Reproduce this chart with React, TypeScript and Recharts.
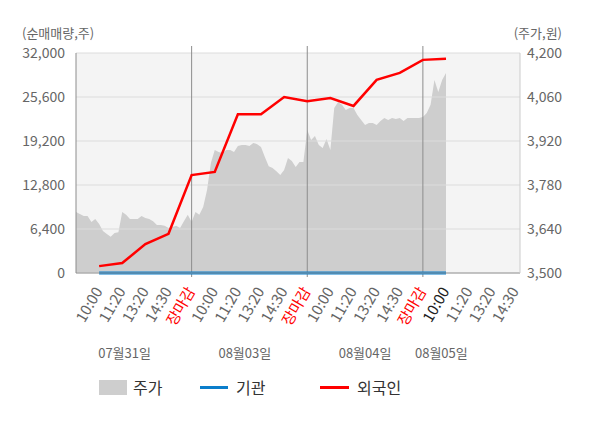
import { ComposedChart, Area, Line, XAxis, YAxis, CartesianGrid, ReferenceLine } from 'recharts'

const FONT = '"Noto Sans CJK KR", "Noto Sans", sans-serif'

// x is measured in label slots: each trading day spans 5 slots (09:00 .. 장마감)
const SLOTS_PER_DAY = 5
const SAMPLES_PER_SLOT = 6
const X_DOMAIN: [number, number] = [0, 19.2]

const timeTickSlots = [1, 2, 3, 4, 5, 6, 7, 8, 9, 10, 11, 12, 13, 14, 15, 16, 17, 18, 19]
const timeTickLabels = [
  '10:00', '11:20', '13:20', '14:30', '장마감',
  '10:00', '11:20', '13:20', '14:30', '장마감',
  '10:00', '11:20', '13:20', '14:30', '장마감',
  '10:00', '11:20', '13:20', '14:30',
]
const currentSlot = 16

const dateTickSlots = [2.1, 7.3, 12.5, 15.8]
const dateTickLabels = ['07월31일', '08월03일', '08월04일', '08월05일']

const dayBreakSlots = [5, 10, 15]

const leftTicks = [0, 6400, 12800, 19200, 25600, 32000]
const rightTicks = [3500, 3640, 3780, 3920, 4060, 4200]

// 기관 / 외국인 cumulative net buying, one point per labelled slot
const flowSlots = [1, 2, 3, 4, 5, 6, 7, 8, 9, 10, 11, 12, 13, 14, 15, 16]
const foreignNet = [1000, 1450, 4200, 5700, 14250, 14700, 23100, 23100, 25600, 25000, 25450, 24300, 28100, 29100, 31000, 31150]
const institutionNet = [0, 0, 0, 0, 0, 0, 0, 0, 0, 0, 0, 0, 0, 0, 0, 0]

// 주가, intraday samples per day
const priceDay0 = [
  3694, 3688, 3681, 3681, 3662, 3672, 3656, 3634, 3624, 3615,
  3627, 3630, 3694, 3685, 3672, 3672, 3672, 3681, 3675, 3672,
  3665, 3653, 3653, 3650, 3643, 3646, 3650, 3643, 3665, 3685,
]
const priceDay1 = [
  3662, 3694, 3685, 3710, 3764, 3850, 3891, 3885, 3882, 3891,
  3891, 3885, 3904, 3907, 3907, 3904, 3914, 3910, 3901, 3869,
  3840, 3834, 3824, 3812, 3828, 3866, 3856, 3837, 3853, 3853,
]
const priceDay2 = [
  3955, 3923, 3936, 3907, 3898, 3926, 3891, 4025, 4044, 4035,
  4019, 4025, 4025, 4003, 3987, 3971, 3977, 3977, 3971, 3984,
  3993, 3987, 3993, 3990, 3993, 3984, 3993, 3993, 3993, 3993,
]
const priceDay3 = [3996, 4009, 4035, 4114, 4076, 4114, 4136]

const priceRows = [priceDay0, priceDay1, priceDay2, priceDay3].flatMap((day, d) =>
  day.map((price, i) => ({ t: d * SLOTS_PER_DAY + i / SAMPLES_PER_SLOT, price }))
)

const flowRows = flowSlots.map((t, i) => ({ t, foreign: foreignNet[i], inst: institutionNet[i] }))

// invisible rows that give the date axis its own domain
const dateRows = dateTickSlots.map((t) => ({ t, v: 0 }))

const fmt = (v: number) => v.toLocaleString('en-US')

// plot box shared by the two stacked charts
const W = 600
const H = 428
const PLOT = { top: 53, left: 76, right: 80, bottom: 155 }

function TimeTick(props: any) {
  const { x, y, payload } = props
  const label = timeTickLabels[timeTickSlots.indexOf(payload.value)]
  const color = label === '장마감' ? '#ff0000' : payload.value === currentSlot ? '#222' : '#666'
  const ax = x + 4
  const ay = y + 16
  return (
    <text x={ax} y={ay} transform={`rotate(-60 ${ax} ${ay})`} textAnchor="end" fontSize={15} fill={color} fontFamily={FONT}>
      {label}
    </text>
  )
}

function DateTick(props: any) {
  const { x, y, payload } = props
  const label = dateTickLabels[dateTickSlots.indexOf(payload.value)]
  return (
    <text x={x} y={y + 13} textAnchor="middle" fontSize={13} fill="#666" fontFamily={FONT}>
      {label}
    </text>
  )
}

const tallLine = (p: any) => (
  <line
    x1={p.x1}
    x2={p.x2}
    y1={Math.min(p.y1, p.y2) - 7}
    y2={Math.max(p.y1, p.y2) + 4}
    stroke="#8c8c8c"
    strokeWidth={1}
  />
)

// bottom layer: plot background + price area
function PriceLayer() {
  return (
    <ComposedChart width={W} height={H} margin={PLOT}>
      <CartesianGrid horizontal={false} vertical={false} fill="#f4f4f4" />
      <XAxis hide type="number" dataKey="t" domain={X_DOMAIN} allowDataOverflow />
      <YAxis hide domain={[3500, 4200]} allowDataOverflow />
      <Area
        data={priceRows}
        dataKey="price"
        name="주가"
        type="linear"
        stroke="none"
        fill="#cecece"
        fillOpacity={1}
        dot={false}
        activeDot={false}
        isAnimationActive={false}
      />
    </ComposedChart>
  )
}

// top layer: grid, axes, day breaks, net-buying lines
function FlowLayer() {
  return (
    <ComposedChart width={W} height={H} margin={{ top: PLOT.top, right: 0, bottom: 0, left: 0 }}>
      <CartesianGrid xAxisId={0} yAxisId="left" vertical={false} stroke="#dcdcdc" />
      <XAxis
        xAxisId={0}
        type="number"
        dataKey="t"
        domain={X_DOMAIN}
        ticks={timeTickSlots}
        interval={0}
        allowDataOverflow
        tick={<TimeTick />}
        tickLine={false}
        tickSize={0}
        axisLine={{ stroke: '#999' }}
        height={70}
      />
      <XAxis
        xAxisId={1}
        type="number"
        dataKey="t"
        domain={X_DOMAIN}
        ticks={dateTickSlots}
        interval={0}
        allowDataOverflow
        tick={<DateTick />}
        tickLine={false}
        tickSize={0}
        axisLine={false}
        height={PLOT.bottom - 70}
      />
      <YAxis
        yAxisId="left"
        orientation="left"
        width={PLOT.left}
        domain={[0, 32000]}
        ticks={leftTicks}
        interval={0}
        tickFormatter={fmt}
        tickLine={false}
        tickSize={0}
        tickMargin={11}
        axisLine={{ stroke: '#8c8c8c' }}
        tick={{ fill: '#666', fontSize: 14, fontFamily: FONT }}
      />
      <YAxis
        yAxisId="right"
        orientation="right"
        width={PLOT.right}
        domain={[3500, 4200]}
        ticks={rightTicks}
        interval={0}
        allowDataOverflow
        tickFormatter={fmt}
        tickLine={false}
        tickSize={0}
        tickMargin={7}
        axisLine={{ stroke: '#ccc' }}
        tick={{ fill: '#666', fontSize: 14, fontFamily: FONT }}
      />

      {/* invisible carriers so the date axis and the price axis get drawn in this layer */}
      <Line
        data={dateRows}
        xAxisId={1}
        yAxisId="left"
        dataKey="v"
        stroke="none"
        legendType="none"
        dot={false}
        activeDot={false}
        isAnimationActive={false}
      />
      <Line
        data={priceRows}
        xAxisId={0}
        yAxisId="right"
        dataKey="price"
        stroke="none"
        legendType="none"
        dot={false}
        activeDot={false}
        isAnimationActive={false}
      />

      {dayBreakSlots.map((v) => (
        <ReferenceLine key={`day-${v}`} xAxisId={0} yAxisId="left" x={v} shape={tallLine} />
      ))}

      <Line
        data={flowRows}
        xAxisId={0}
        yAxisId="left"
        dataKey="inst"
        name="기관"
        type="linear"
        stroke="#0b7ecb"
        strokeWidth={3}
        dot={false}
        activeDot={false}
        isAnimationActive={false}
      />
      <Line
        data={flowRows}
        xAxisId={0}
        yAxisId="left"
        dataKey="foreign"
        name="외국인"
        type="linear"
        stroke="#ff0000"
        strokeWidth={2.5}
        dot={false}
        activeDot={false}
        isAnimationActive={false}
      />
    </ComposedChart>
  )
}

export default function App() {
  return (
    <div style={{ position: 'absolute', left: 0, top: 0, width: W, height: H, background: '#fff', fontFamily: FONT }}>
      <div style={{ position: 'absolute', left: 0, top: 0 }}>
        <PriceLayer />
      </div>
      <div style={{ position: 'absolute', left: 0, top: 0 }}>
        <FlowLayer />
      </div>

      <div style={{ position: 'absolute', left: 22, top: 23, fontSize: 13, color: '#666' }}>(순매매량,주)</div>
      <div style={{ position: 'absolute', right: 38, top: 23, fontSize: 13, color: '#666' }}>(주가,원)</div>

      <div style={{ position: 'absolute', left: 99, top: 375, display: 'flex', alignItems: 'center', fontSize: 16, color: '#333' }}>
        <div style={{ width: 101, display: 'flex', alignItems: 'center' }}>
          <span style={{ width: 28, height: 15, background: '#cecece', marginRight: 6 }} />
          주가
        </div>
        <div style={{ width: 120, display: 'flex', alignItems: 'center' }}>
          <span style={{ width: 28, height: 3, background: '#0b7ecb', marginRight: 8 }} />
          기관
        </div>
        <div style={{ display: 'flex', alignItems: 'center' }}>
          <span style={{ width: 29, height: 3, background: '#ff0000', marginRight: 8 }} />
          외국인
        </div>
      </div>
    </div>
  )
}
